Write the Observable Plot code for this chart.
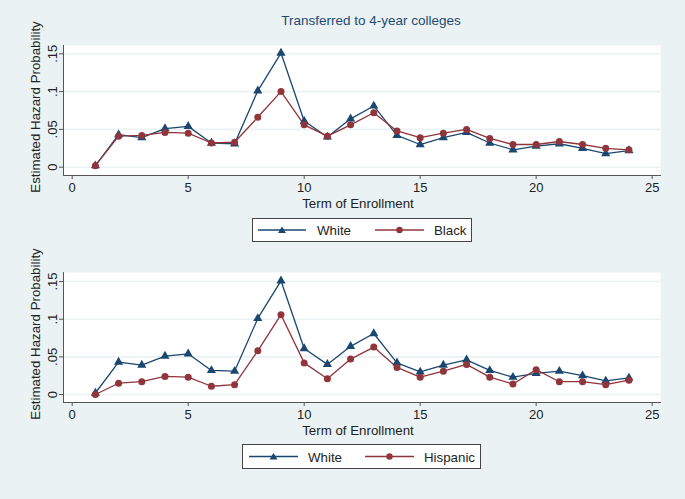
<!DOCTYPE html>
<html><head><meta charset="utf-8">
<script src="https://cdn.jsdelivr.net/npm/d3@7"></script>
<script src="https://cdn.jsdelivr.net/npm/@observablehq/plot@0.6"></script>
<style>
body{margin:0;background:#eaf2f3;}
#root{position:relative;width:685px;height:499px;background:#eaf2f3;font-family:"Liberation Sans",Arial,sans-serif;color:#222;overflow:hidden}
.abs{position:absolute;white-space:nowrap}
.title{font-size:13.5px;color:#1e4a72;transform:translate(-50%,-50%)}
.xlab{font-size:13.3px;transform:translate(-50%,-50%)}
.ylab{font-size:13.3px;transform:translate(-50%,-50%) rotate(-90deg)}
.legend{background:#fff;border:1px solid #444;box-sizing:border-box}
.legend span{position:absolute;font-size:13.3px;top:50%;transform:translateY(-50%)}
.legend svg{position:absolute;top:0;left:0}
</style>
</head><body>
<div id="root"></div>
<script>
// ---- data ----
const terms = [1,2,3,4,5,6,7,8,9,10,11,12,13,14,15,16,17,18,19,20,21,22,23,24];
const white = [0.002,0.043,0.039,0.051,0.054,0.032,0.031,0.101,0.151,0.061,0.040,0.064,0.081,0.042,0.030,0.039,0.046,0.032,0.023,0.028,0.031,0.025,0.018,0.022];
const black = [0.002,0.041,0.042,0.046,0.045,0.032,0.033,0.066,0.100,0.056,0.041,0.056,0.072,0.048,0.039,0.045,0.050,0.038,0.030,0.030,0.034,0.030,0.025,0.023];
const hispanic = [0.000,0.015,0.017,0.024,0.023,0.011,0.013,0.058,0.106,0.042,0.021,0.047,0.063,0.036,0.023,0.031,0.040,0.023,0.014,0.033,0.017,0.017,0.013,0.019];
const xTicks = [0,5,10,15,20,25];
const yTicks = [0,0.05,0.1,0.15];
const yTickLabels = ["0",".05",".1",".15"];
const titleText = "Transferred to 4-year colleges";
const xTitle = "Term of Enrollment";
const yTitle = "Estimated Hazard Probability";

const NAVY = "#1a476f", MAROON = "#90353b";
const FONT = '"Liberation Sans", Arial, sans-serif';
const root = document.getElementById("root");

function addDiv(cls, text, x, y) {
  const d = document.createElement("div");
  d.className = "abs " + cls;
  d.textContent = text;
  d.style.left = x + "px"; d.style.top = y + "px";
  root.appendChild(d);
  return d;
}

function panel(other, top, yDomain) {
  const rowsW = terms.map((t, i) => ({term: t, value: white[i]}));
  const rowsO = terms.map((t, i) => ({term: t, value: other[i]}));
  const chart = Plot.plot({
    width: 685, height: 185,
    marginLeft: 63, marginRight: 25, marginTop: 15, marginBottom: 40,
    style: {background: "transparent", fontFamily: FONT, fontSize: "13px", color: "#222"},
    x: {domain: [-0.375, 25.36]},
    y: {domain: yDomain},
    marks: [
      Plot.frame({fill: "white", stroke: "none"}),
      Plot.gridY(yTicks, {stroke: "#eaf2f3", strokeOpacity: 1, strokeWidth: 1.6}),
      Plot.frame({anchor: "left", stroke: "#555"}),
      Plot.frame({anchor: "bottom", stroke: "#555"}),
      Plot.axisX(xTicks, {tickSize: 4, tickPadding: 3, label: null, stroke: "#555", fill: "#222", tickFormat: d => String(d)}),
      Plot.axisY(yTicks, {tickSize: 4, tickPadding: 3, tickRotate: -90, label: null, stroke: "#555", fill: "#222",
        tickFormat: d => yTickLabels[yTicks.indexOf(d)]}),
      Plot.line(rowsW, {x: "term", y: "value", stroke: NAVY, strokeWidth: 1.3}),
      Plot.line(rowsO, {x: "term", y: "value", stroke: MAROON, strokeWidth: 1.3}),
      Plot.dot(rowsW, {x: "term", y: "value", fill: NAVY, symbol: "triangle", r: 3.4, stroke: "none"}),
      Plot.dot(rowsO, {x: "term", y: "value", fill: MAROON, symbol: "circle", r: 3.5, stroke: "none"})
    ]
  });
  chart.style.position = "absolute";
  chart.style.left = "0px";
  chart.style.top = top + "px";
  root.appendChild(chart);
  addDiv("xlab", xTitle, 358, top + 172.5);
  addDiv("ylab", yTitle, 35, top + 77);
}

function legend(x, y, w, h, items) {
  const box = document.createElement("div");
  box.className = "abs legend";
  Object.assign(box.style, {left: x + "px", top: y + "px", width: w + "px", height: h + "px"});
  const ns = "http://www.w3.org/2000/svg";
  const svg = document.createElementNS(ns, "svg");
  svg.setAttribute("width", w); svg.setAttribute("height", h);
  items.forEach(it => {
    const cy = h / 2 - 1;
    const ln = document.createElementNS(ns, "line");
    ln.setAttribute("x1", it.x0); ln.setAttribute("x2", it.x1);
    ln.setAttribute("y1", cy); ln.setAttribute("y2", cy);
    ln.setAttribute("stroke", it.color); ln.setAttribute("stroke-width", 1.3);
    svg.appendChild(ln);
    const mx = (it.x0 + it.x1) / 2;
    let m;
    if (it.symbol === "triangle") {
      m = document.createElementNS(ns, "path");
      m.setAttribute("d", `M${mx},${cy-3.6}L${mx+4},${cy+3}L${mx-4},${cy+3}Z`);
    } else {
      m = document.createElementNS(ns, "circle");
      m.setAttribute("cx", mx); m.setAttribute("cy", cy); m.setAttribute("r", 3.2);
    }
    m.setAttribute("fill", it.color);
    svg.appendChild(m);
    const s = document.createElement("span");
    s.textContent = it.label;
    s.style.left = it.tx + "px";
    box.appendChild(s);
  });
  box.appendChild(svg);
  root.appendChild(box);
}

addDiv("title", titleText, 371, 20);
panel(black, 30, [-0.011, 0.161]);
panel(hispanic, 257, [-0.0106, 0.162]);
legend(252, 218, 220, 24, [
  {x0: 5, x1: 53, color: NAVY, symbol: "triangle", label: "White", tx: 64},
  {x0: 122, x1: 171, color: MAROON, symbol: "circle", label: "Black", tx: 181}
]);
legend(242, 444, 239, 25, [
  {x0: 6, x1: 55, color: NAVY, symbol: "triangle", label: "White", tx: 65},
  {x0: 122, x1: 171, color: MAROON, symbol: "circle", label: "Hispanic", tx: 181}
]);
</script>
</body></html>
